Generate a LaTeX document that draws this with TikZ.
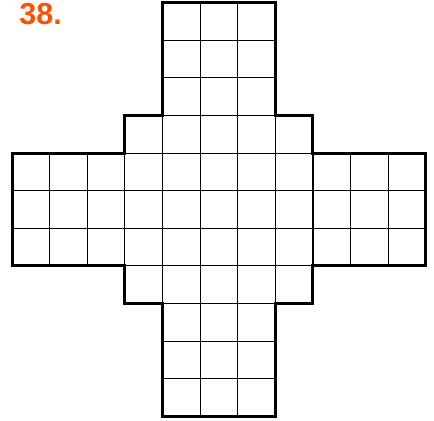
\documentclass[tikz,border=0pt]{standalone}
\usepackage{fontspec}
\setmainfont{Liberation Sans}
\usetikzlibrary{positioning}
\definecolor{numorange}{RGB}{255,80,0}

\begin{document}
\begin{tikzpicture}[cell/.style={line width=0.6pt}, rim/.style={line width=2.3pt, line join=miter}]
  \useasboundingbox (-0.32,-0.12) rectangle (11.22,11.07);
  \node[anchor=base west, inner sep=0pt, text=numorange, font=\bfseries\fontsize{23}{23}\selectfont] (num) at (0.19,10.415) {38.};
  % grid of the cross
  \draw[cell] (4,0) grid (7,11);
  \draw[cell] (3,3) grid (8,8);
  \draw[cell] (0,4) grid (11,7);
  % outline
  \draw[rim] (4,11) -- (7,11) -- (7,8) -- (8,8) -- (8,7) -- (11,7) -- (11,4) -- (8,4) -- (8,3) -- (7,3) -- (7,0) -- (4,0) -- (4,3) -- (3,3) -- (3,4) -- (0,4) -- (0,7) -- (3,7) -- (3,8) -- (4,8) -- cycle;
\end{tikzpicture}
\end{document}
